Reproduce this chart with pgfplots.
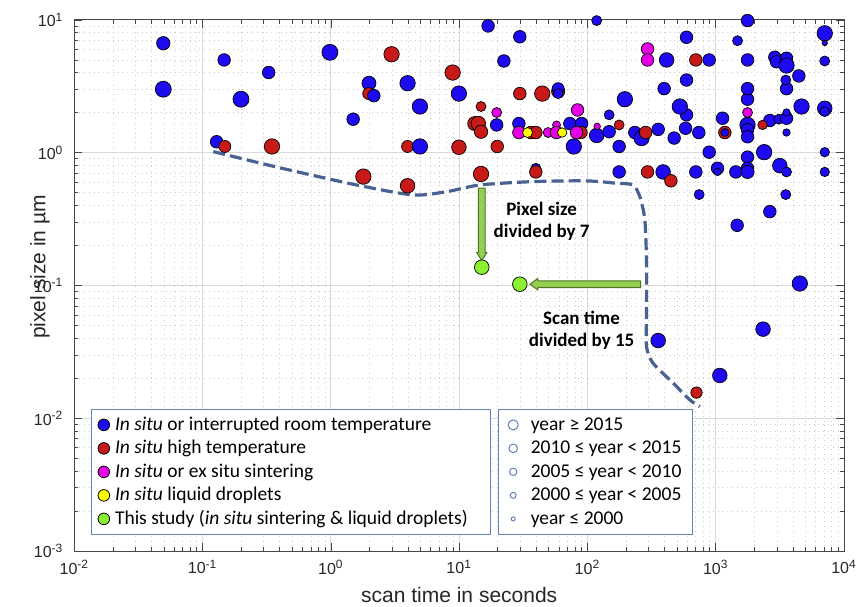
\documentclass[border=0pt]{standalone}
\usepackage{fontspec}
\setmainfont{Liberation Sans}
\newfontfamily\carlito{Carlito}
\usepackage{pgfplots}
\pgfplotsset{compat=1.18}
\definecolor{cblue}{RGB}{30,10,240}
\definecolor{cred}{RGB}{200,25,25}
\definecolor{cmag}{RGB}{230,0,230}
\definecolor{cyel}{RGB}{255,255,0}
\definecolor{cgreen}{RGB}{140,240,50}
\definecolor{agreen}{RGB}{146,208,80}
\definecolor{adark}{RGB}{80,115,40}
\definecolor{dashc}{RGB}{72,98,145}
\definecolor{legblue}{RGB}{100,130,185}
\definecolor{axgray}{RGB}{70,70,70}

\pgfplotsset{
  bubble/.style={scatter, only marks, mark=*, forget plot,
    scatter/use mapped color={draw=black, fill=#1},
    mark options={line width=0.35pt},
    visualization depends on={\thisrow{r} \as \rr},
    scatter/@pre marker code/.append style={/tikz/mark size=\rr}},
  mylegend/.style={legend style={at={(rel axis cs:#1,0.030)}, anchor=south west, draw=legblue, line width=0.6pt, fill=white,
    font=\carlito\fontsize{9.75}{11}\selectfont, row sep=0.55pt, inner xsep=3pt, inner ysep=2.2pt,
    nodes={inner xsep=2.5pt, inner ysep=1pt, text height=7.2pt, text depth=2pt}},
    legend cell align=left},
  yearimg/.style={legend image code/.code={\draw[opacity=0] (0pt,-1pt) rectangle (10pt,1pt); \draw[draw=legblue, line width=0.5pt, fill=none] (4pt,0pt) circle (#1);}},
}

\begin{document}
\begin{tikzpicture}
\begin{axis}[
  scale only axis, width=384.8pt, height=265.5pt,
  xmode=log, ymode=log,
  xmin=0.01, xmax=10000, ymin=0.001, ymax=10,
  clip=false,
  axis line style={axgray, line width=0.5pt},
  xtick={0.01,0.1,1,10,100,1000,10000},
  xticklabels={10\textsuperscript{-2},10\textsuperscript{-1},10\textsuperscript{0},10\textsuperscript{1},10\textsuperscript{2},10\textsuperscript{3},10\textsuperscript{4}},
  ytick={0.001,0.01,0.1,1,10},
  yticklabels={10\textsuperscript{-3},10\textsuperscript{-2},10\textsuperscript{-1},10\textsuperscript{0},10\textsuperscript{1}},
  minor xtick={0.02,0.03,0.04,0.05,0.06,0.07,0.08,0.09,0.2,0.3,0.4,0.5,0.6,0.7,0.8,0.9,2,3,4,5,6,7,8,9,20,30,40,50,60,70,80,90,200,300,400,500,600,700,800,900,2000,3000,4000,5000,6000,7000,8000,9000},
  minor ytick={0.002,0.003,0.004,0.005,0.006,0.007,0.008,0.009,0.02,0.03,0.04,0.05,0.06,0.07,0.08,0.09,0.2,0.3,0.4,0.5,0.6,0.7,0.8,0.9,2,3,4,5,6,7,8,9},
  tick align=inside,
  major tick length=4pt, minor tick length=2pt,
  tick style={axgray, line width=0.4pt},
  grid=both,
  major grid style={solid, draw=gray!30, line width=0.5pt},
  minor grid style={dotted, draw=gray!40, line width=0.4pt},
  ticklabel style={font=\fontsize{8}{9.6}\selectfont, text=black!85},
  xticklabel style={yshift=-1pt},
  yticklabel style={xshift=-2pt},
  xlabel={scan time in seconds},
  ylabel={pixel size in µm},
  every axis x label/.style={at={(axis description cs:0.5,0)}, anchor=center, yshift=-22pt, font=\fontsize{10.5}{12}\selectfont, text=black!85},
  every axis y label/.style={at={(axis description cs:-0.0447,0.535)}, anchor=center, rotate=90, font=\fontsize{10.5}{12}\selectfont, text=black!85},
  mylegend=0.0216,
]
% dashed frontier
\addplot[forget plot, dashc, line width=1.6pt, dash pattern=on 6pt off 2.6pt, smooth, tension=0.45] coordinates {
(0.121,1.02) (0.40,0.77) (1.585,0.572) (4.36,0.481) (7.98,0.509) (14.5,0.572) (37.5,0.606) (98.4,0.614) (168.6,0.589) (226,0.572) (256,0.467) (280,0.312) (288.8,0.148) (288.8,0.0622) (288.8,0.0347) (323.6,0.0261) (463.5,0.0185) (628,0.01377) (751,0.01225)
};
% blue
\addplot[bubble=cblue] table {
x y r
0.0493 6.68 3.35
0.0493 3.01 4.0
0.147 5.0 3.15
0.327 4.02 3.15
0.199 2.53 4.0
0.982 5.71 4.0
1.98 3.34 3.5
3.96 3.34 3.85
4.94 2.23 3.85
1.49 1.79 3.15
9.95 2.79 3.85
0.1285 1.21 3.15
16.8 9.02 3.15
29.7 7.48 3.15
22.3 4.91 3.15
118 9.9 2.5
19.6 1.62 3.15
147.6 1.93 2.5
195.7 2.53 3.85
29.2 1.66 3.15
72.9 1.66 3.15
90.0 1.66 3.15
118 1.35 3.65
147.6 1.44 3.15
234 1.42 3.15
264 1.29 3.85
356 1.50 3.15
474 1.29 3.15
582 1.53 3.15
738 1.42 3.15
592 1.93 3.15
525 2.23 3.85
1130 1.82 3.15
1770 1.62 3.85
1770 1.49 3.15
1770 1.32 3.15
1770 2.53 3.15
1770 3.04 3.15
1770 5.0 3.15
1770 9.9 3.15
2642 1.75 3.15
3104 1.79 2.5
3564 1.82 3.15
3564 2.01 1.85
3564 1.42 1.85
4667 2.23 3.85
7079 2.16 3.65
7079 2.04 2.5
7079 1.01 2.35
7079 0.717 2.35
7079 4.91 2.5
7079 7.94 3.85
7079 6.71 1.35
3564 3.04 3.15
3516 3.53 2.5
4446 3.79 3.15
2890 5.24 3.15
2979 4.85 3.15
3564 5.15 3.15
3564 4.54 3.85
1479 6.98 2.5
592 7.41 3.15
592 3.53 3.15
396 3.04 3.15
414 5.0 3.65
889 5.0 3.15
78.3 1.115 3.85
176.6 1.115 3.15
889 1.01 3.15
1770 0.927 3.15
2384 1.01 3.85
3160 0.80 3.65
3564 0.717 2.5
39.6 0.764 2.5
176.6 0.717 3.15
389 0.717 3.65
700 0.717 3.15
1033 0.764 3.15
1033 0.717 1.85
1435 0.717 3.15
1770 0.764 3.15
1770 0.717 3.3
743 0.484 2.5
3516 0.484 2.5
2642 0.36 3.15
1469 0.284 3.15
4524 0.1035 3.85
2339 0.0469 3.65
356 0.0385 3.65
1076 0.021 3.65
};
% red
\addplot[bubble=cred] table {
x y r
2.97 5.52 3.85
1.97 2.79 3.0
8.89 4.02 3.85
0.149 1.115 3.0
0.347 1.115 3.85
3.96 1.115 3.0
9.95 1.10 3.65
1.79 0.661 3.85
3.96 0.564 3.65
29.7 2.79 3.15
44.4 2.79 3.85
59.1 2.90 3.3
14.8 2.23 2.5
13.2 1.66 3.5
14.1 1.66 3.65
14.8 1.44 3.35
36.2 1.42 3.15
39.6 1.42 3.15
88.9 1.42 3.15
176.6 1.62 2.5
284 1.42 3.15
1178 1.42 3.15
2317 1.62 2.35
700 5.0 3.15
19.8 1.115 3.15
14.8 0.692 3.85
39.6 0.717 3.15
294 0.717 3.15
447 0.615 3.15
708 0.0156 2.85
};
% magenta
\addplot[bubble=cmag] table {
x y r
19.6 2.01 2.5
83.7 2.10 3.15
29.2 1.42 3.15
49.4 1.42 2.5
57.4 1.62 2.0
57.4 1.42 3.15
82.2 1.42 3.15
119 1.58 1.65
294 6.05 3.15
294 5.0 3.15
1770 2.01 2.5
};
% yellow
\addplot[bubble=cyel] table {
x y r
34.1 1.42 2.5
63.5 1.42 2.35
};
% blue on top
\addplot[bubble=cblue] table {
x y r
59.1 3.04 3.0
59.1 2.79 2.5
1178 1.42 2.0
2.16 2.69 3.15
4.94 1.115 3.85
};
% arrows
\draw[fill=agreen, draw=adark, line width=0.5pt] (axis cs:15,0.154) -- ++(2.5pt,4pt) -- ++(-0.83pt,0pt) -- ++(0pt,32.2pt) -- ++(-3.34pt,0pt) -- ++(0pt,-32.2pt) -- ++(-0.83pt,0pt) -- cycle;
\draw[fill=agreen, draw=adark, line width=0.5pt] (axis cs:35.6,0.1023) -- ++(4pt,2.9pt) -- ++(0pt,-1.23pt) -- ++(51.3pt,0pt) -- ++(0pt,-3.34pt) -- ++(-51.3pt,0pt) -- ++(0pt,-1.23pt) -- cycle;
% green
\addplot[bubble=cgreen] table {
x y r
15 0.1374 3.65
29.7 0.1023 3.65
};
\node[font=\carlito\bfseries\fontsize{9.5}{11}\selectfont, align=center] at (axis cs:43.9,0.3065) {Pixel size\\divided by 7};
\node[font=\carlito\bfseries\fontsize{9.5}{11}\selectfont, align=center] at (axis cs:90,0.0463) {Scan time\\divided by 15};
% legend
\addlegendimage{legend image code/.code={\draw[fill=cblue, draw=black, line width=0.4pt] (1pt,0pt) circle (2.9pt);}}
\addlegendentry{\textit{In situ} or interrupted room temperature}
\addlegendimage{legend image code/.code={\draw[fill=cred, draw=black, line width=0.4pt] (1pt,0pt) circle (2.9pt);}}
\addlegendentry{\textit{In situ} high temperature}
\addlegendimage{legend image code/.code={\draw[fill=cmag, draw=black, line width=0.4pt] (1pt,0pt) circle (2.9pt);}}
\addlegendentry{\textit{In situ} or ex situ sintering}
\addlegendimage{legend image code/.code={\draw[fill=cyel, draw=black, line width=0.4pt] (1pt,0pt) circle (2.9pt);}}
\addlegendentry{\textit{In situ} liquid droplets}
\addlegendimage{legend image code/.code={\draw[fill=cgreen, draw=black, line width=0.4pt] (1pt,0pt) circle (2.9pt);}}
\addlegendentry{This study (\textit{in situ} sintering \& liquid droplets)\hspace*{6pt}}
\end{axis}
\begin{axis}[
  scale only axis, width=384.8pt, height=265.5pt,
  hide axis, xmin=0, xmax=1, ymin=0, ymax=1,
  mylegend=0.5504,
]
\addlegendimage{yearimg=2.5pt}
\addlegendentry{year ≥ 2015}
\addlegendimage{yearimg=2.15pt}
\addlegendentry{2010 ≤ year < 2015}
\addlegendimage{yearimg=1.85pt}
\addlegendentry{2005 ≤ year < 2010}
\addlegendimage{yearimg=1.5pt}
\addlegendentry{2000 ≤ year < 2005}
\addlegendimage{yearimg=1.0pt}
\addlegendentry{year ≤ 2000}
\end{axis}
\pgfresetboundingbox
\path[use as bounding box] (-37.2pt,-27.5pt) rectangle (391.3pt,275.5pt);
\end{tikzpicture}
\end{document}
